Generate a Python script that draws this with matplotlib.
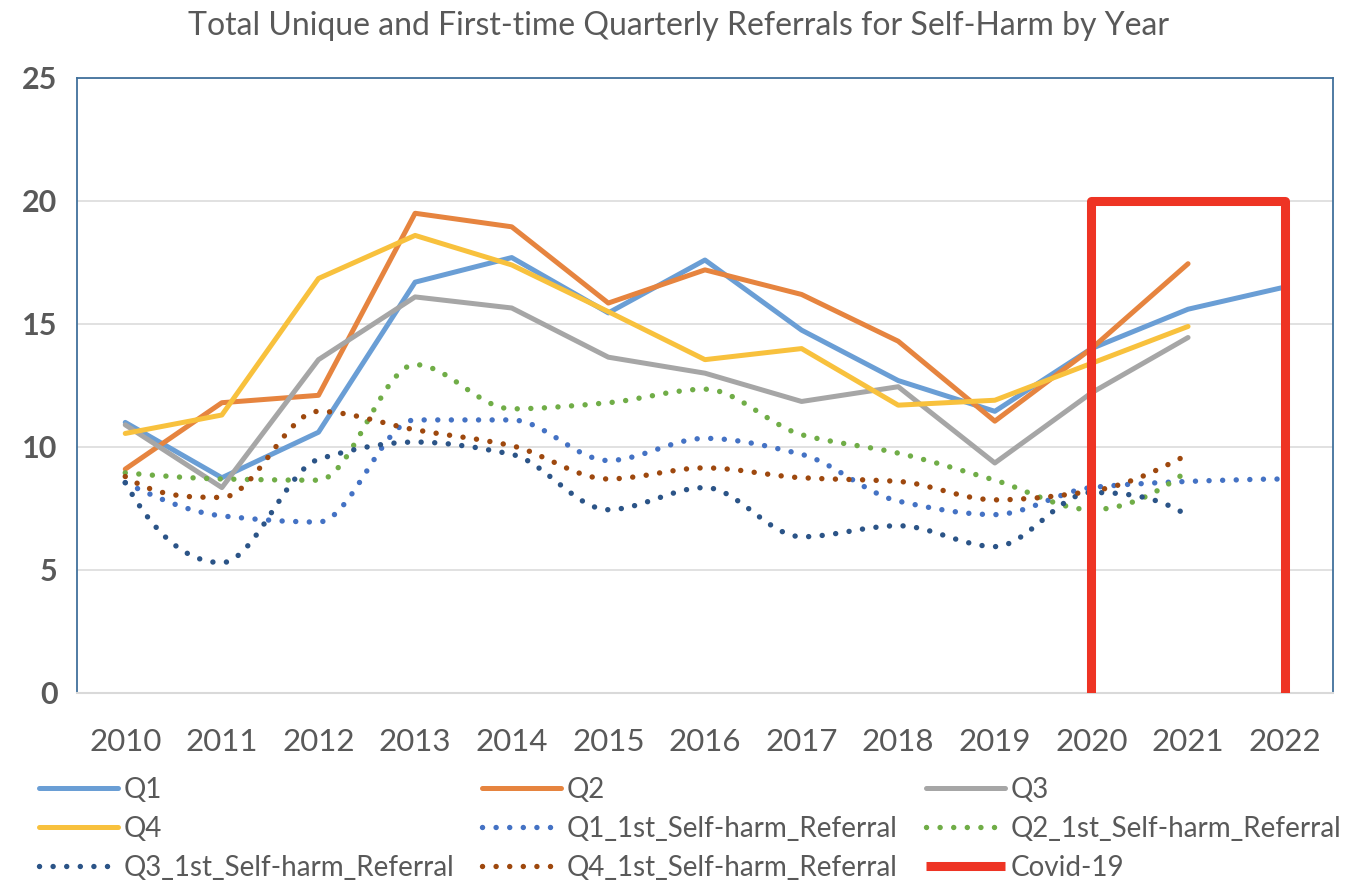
import numpy as np
import matplotlib
matplotlib.use("Agg")
from matplotlib import pyplot as plt
from matplotlib.path import Path
from matplotlib.patches import PathPatch
from matplotlib.lines import Line2D

plt.rcParams["font.family"] = ["Lato", "DejaVu Sans"]

# values
years = list(range(2010, 2023))
q1 = [11.0, 8.75, 10.6, 16.7, 17.7, 15.45, 17.6, 14.75, 12.7, 11.45, 14.0, 15.6, 16.5]
q2 = [9.1, 11.8, 12.1, 19.5, 18.95, 15.85, 17.2, 16.2, 14.3, 11.05, 14.0, 17.45]
q3 = [10.9, 8.35, 13.55, 16.1, 15.65, 13.65, 13.0, 11.85, 12.45, 9.35, 12.2, 14.45]
q4 = [10.55, 11.3, 16.85, 18.6, 17.4, 15.5, 13.55, 14.0, 11.7, 11.9, 13.4, 14.9]
q1_first = [8.55, 7.2, 6.95, 11.1, 11.1, 9.45, 10.35, 9.7, 7.8, 7.25, 8.35, 8.6, 8.7]
q2_first = [8.95, 8.7, 8.65, 13.35, 11.55, 11.8, 12.35, 10.5, 9.75, 8.65, 7.45, 9.05]
q3_first = [8.55, 5.3, 9.5, 10.2, 9.7, 7.45, 8.35, 6.35, 6.8, 5.95, 8.15, 7.2]
q4_first = [8.8, 7.95, 11.45, 10.7, 10.05, 8.7, 9.15, 8.75, 8.6, 7.85, 8.2, 9.7]
covid_x = [2020, 2020, 2022, 2022]
covid_y = [0, 20, 20, 0]

solid = [("Q1", q1, "#6A9ED5"), ("Q2", q2, "#E6843F"),
         ("Q3", q3, "#A6A6A6"), ("Q4", q4, "#F8C13D")]
dotted = [("Q1_1st_Self-harm_Referral", q1_first, "#4472C4"),
          ("Q2_1st_Self-harm_Referral", q2_first, "#70AD47"),
          ("Q3_1st_Self-harm_Referral", q3_first, "#2B5487"),
          ("Q4_1st_Self-harm_Referral", q4_first, "#9E480E")]

TEXT = "#595959"
DOTS = (0, (0.01, 2.5))


def tangents(y):
    # monotone (Fritsch-Carlson) slopes, unit spacing
    d = np.diff(y)
    m = np.zeros(len(y))
    for k in range(1, len(y) - 1):
        if d[k - 1] * d[k] > 0:
            m[k] = 2 * d[k - 1] * d[k] / (d[k - 1] + d[k])
    for k, a, b in ((0, d[0], d[1]), (-1, d[-1], d[-2])):
        e = (3 * a - b) / 2
        if e * a <= 0:
            e = 0.0
        elif a * b < 0 and abs(e) > 3 * abs(a):
            e = 3 * a
        m[k] = e
    return m


def smooth_path(x, y):
    # smoothed line drawn as cubic Bezier segments through the data points
    x = np.asarray(x, float)
    y = np.asarray(y, float)
    m = tangents(y)
    verts, codes = [(x[0], y[0])], [Path.MOVETO]
    for i in range(len(x) - 1):
        h = (x[i + 1] - x[i]) / 3
        verts += [(x[i] + h, y[i] + h * m[i]),
                  (x[i + 1] - h, y[i + 1] - h * m[i + 1]),
                  (x[i + 1], y[i + 1])]
        codes += [Path.CURVE4] * 3
    return Path(verts, codes)


fig = plt.figure(figsize=(13.57, 8.81), dpi=100)
ax = fig.add_axes([0.0567, 0.2134, 0.9256, 0.6981])

handles = {}
for name, vals, color in solid:
    (ln,) = ax.plot(years[:len(vals)], vals, color=color, lw=3.6,
                    solid_joinstyle="round", solid_capstyle="round", zorder=3)
    handles[name] = ln
for name, vals, color in dotted:
    ax.add_patch(PathPatch(smooth_path(years[:len(vals)], vals), fill=False,
                           edgecolor=color, lw=3.9, linestyle=DOTS,
                           capstyle="round", zorder=4))
    handles[name] = Line2D([], [], color=color, lw=3.9, linestyle=DOTS,
                           dash_capstyle="round")
(cv,) = ax.plot(covid_x, covid_y, color="#EE3424", lw=6.5,
                solid_joinstyle="round", solid_capstyle="butt", zorder=5)
handles["Covid-19"] = cv

ax.set_xlim(2009.5, 2022.5)
ax.set_ylim(0, 25)
ax.set_xticks(years)
ax.set_yticks(range(0, 26, 5))
ax.yaxis.grid(True, color="#D9D9D9", lw=1.1)
ax.set_axisbelow(True)
ax.tick_params(axis="x", length=0, pad=25, labelsize=22.5, labelcolor=TEXT)
ax.tick_params(axis="y", length=0, pad=14, labelsize=22, labelcolor=TEXT)
for lab in ax.get_yticklabels():
    lab.set_fontweight("bold")
for side in ("left", "top", "right"):
    ax.spines[side].set_color("#41719C")
    ax.spines[side].set_linewidth(1.3)
ax.spines["bottom"].set_color("#D9D9D9")
ax.spines["bottom"].set_linewidth(1.5)

fig.text(0.5, 0.971, "Total Unique and First-time Quarterly Referrals for Self-Harm by Year",
         ha="center", va="center", fontsize=23, color=TEXT)

# legend laid out in three columns, row-major like the original
columns = [["Q1", "Q4", "Q3_1st_Self-harm_Referral"],
           ["Q2", "Q1_1st_Self-harm_Referral", "Q4_1st_Self-harm_Referral"],
           ["Q3", "Q2_1st_Self-harm_Referral", "Covid-19"]]
col_x = [39, 482, 926]
for names, x0 in zip(columns, col_x):
    leg = fig.legend([handles[n] for n in names], names, loc="upper left",
                     bbox_to_anchor=(x0 / 1357, 1 - 777 / 881),
                     frameon=False, fontsize=20, handlelength=2.85,
                     handletextpad=0.2, labelspacing=0.47, borderpad=0,
                     borderaxespad=0)
    for t in leg.get_texts():
        t.set_color(TEXT)

fig.savefig("out.png", dpi=100, facecolor="white")
